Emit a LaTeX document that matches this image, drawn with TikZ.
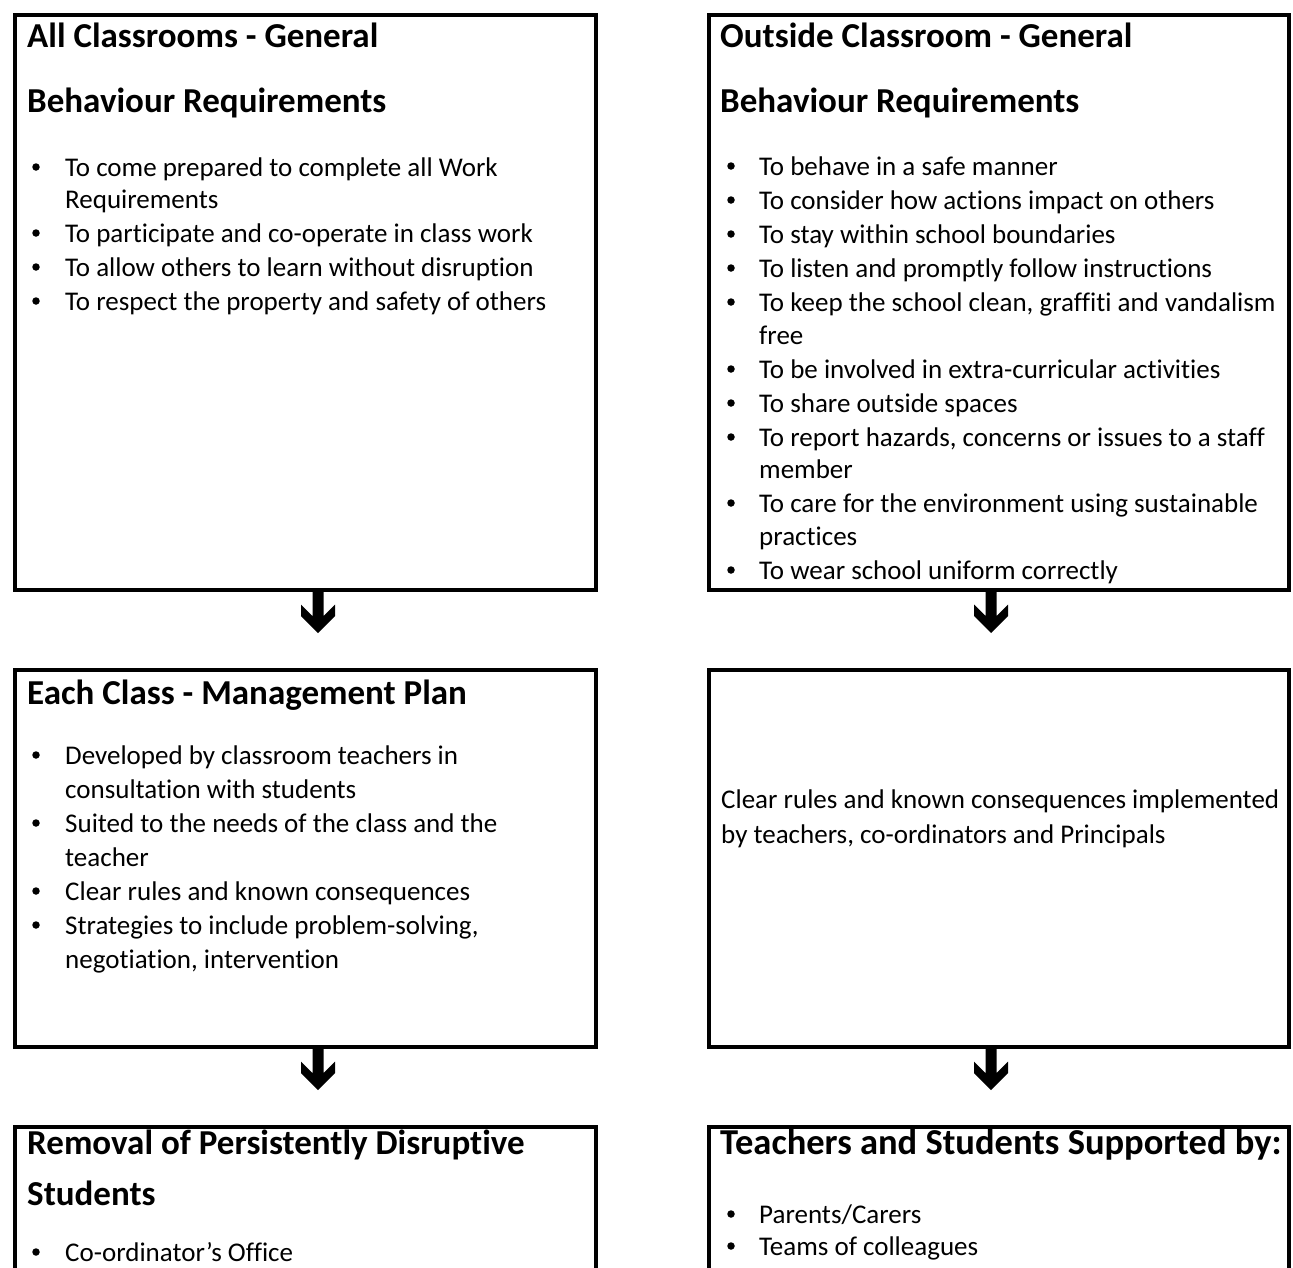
\documentclass[tikz,border=0pt]{standalone}
\usepackage{fontspec}
\setmainfont{Carlito}[Ligatures=NoCommon]
\begin{document}
\begin{tikzpicture}[x=1pt,y=-1pt,
  box/.style={draw=black,line width=4pt,inner sep=0pt,anchor=north west},
  ttl/.style={font=\fontsize{35}{42}\selectfont\bfseries,anchor=base west,inner sep=0pt},
  txt/.style={font=\fontsize{27}{33}\selectfont,anchor=base west,inner sep=0pt},
  bul/.style={circle,fill=black,inner sep=0pt,minimum size=7.5pt},
  arr/.style={fill=black}]
\useasboundingbox (0,0) rectangle (1293,1267);
\clip (0,0) rectangle (1293,1267);
% boxes
\node[box,minimum width=581pt,minimum height=575pt] (b1) at (12.5,13) {};
\node[box,minimum width=580pt,minimum height=575pt] (b2) at (707,13) {};
\node[box,minimum width=581pt,minimum height=377pt] (b3) at (12.5,668) {};
\node[box,minimum width=580pt,minimum height=377pt] (b4) at (707,668) {};
\node[box,minimum width=581pt,minimum height=300pt] (b5) at (12.5,1125) {};
\node[box,minimum width=580pt,minimum height=300pt] (b6) at (707,1125) {};
% arrows
\foreach \src/\xx in {b1/318,b2/991,b3/318,b4/991}{
  \fill[arr] (\src.south -| \xx,0) ++(-5.5,0) -- ++(0,24) -- ++(-11.5,-11.5) -- ++(0,11.5) -- ++(17,17) -- ++(17,-17) -- ++(0,-11.5) -- ++(-11.5,11.5) -- ++(0,-24) -- cycle;
}
% box 1
\node[ttl] (t1a) at (27,47) {All Classrooms - General};
\node[ttl] (t1b) at (27,112) {Behaviour Requirements};
\foreach \n/\yy/\tt in {1/176/{To come prepared to complete all Work},3/242/{To participate and co-operate in class work},4/276/{To allow others to learn without disruption},5/310/{To respect the property and safety of others}}{
  \node[bul] (p1b\n) at (36,\yy-9) {};
  \node[txt] (p1t\n) at (65,\yy) {\tt};
}
\node[txt] (p1t2) at (65,208) {Requirements};
% box 2
\node[ttl] (t2a) at (720,47) {Outside Classroom - General};
\node[ttl] (t2b) at (720,112) {Behaviour Requirements};
\foreach \n/\yy/\tt in {1/175/{To behave in a safe manner},2/209/{To consider how actions impact on others},3/243/{To stay within school boundaries},4/277/{To listen and promptly follow instructions},5/311/{To keep the school clean, graffiti and vandalism},6/378/{To be involved in extra-curricular activities},7/412/{To share outside spaces},8/446/{To report hazards, concerns or issues to a staff},9/512/{To care for the environment using sustainable},10/579/{To wear school uniform correctly}}{
  \node[bul] (p2b\n) at (731,\yy-9) {};
  \node[txt] (p2t\n) at (759,\yy) {\tt};
}
\node[txt] (p2c1) at (759,344) {free};
\node[txt] (p2c2) at (759,478) {member};
\node[txt] (p2c3) at (759,545) {practices};
% box 3
\node[ttl] (t3a) at (27,704) {Each Class - Management Plan};
\foreach \n/\yy/\tt in {1/764/{Developed by classroom teachers in},2/832/{Suited to the needs of the class and the},3/900/{Clear rules and known consequences},4/934/{Strategies to include problem-solving,}}{
  \node[bul] (p3b\n) at (36,\yy-9) {};
  \node[txt] (p3t\n) at (65,\yy) {\tt};
}
\node[txt] (p3c1) at (65,798) {consultation with students};
\node[txt] (p3c2) at (65,866) {teacher};
\node[txt] (p3c3) at (65,968) {negotiation, intervention};
% box 4
\node[txt] (p4a) at (721,808) {Clear rules and known consequences implemented};
\node[txt] (p4b) at (721,843) {by teachers, co-ordinators and Principals};
% box 5
\node[ttl] (t5a) at (27,1154) {Removal of Persistently Disruptive};
\node[ttl] (t5b) at (27,1205) {Students};
\node[bul] (p5b1) at (36,1252) {};
\node[txt] (p5t1) at (65,1261) {Co-ordinator’s Office};
% box 6
\node[ttl,font=\fontsize{36.5}{42}\selectfont\bfseries] (t6a) at (720,1154) {Teachers and Students Supported by:};
\node[bul] (p6b1) at (731,1214) {};
\node[txt] (p6t1) at (759,1223) {Parents/Carers};
\node[bul] (p6b2) at (731,1246) {};
\node[txt] (p6t2) at (759,1255) {Teams of colleagues};
\end{tikzpicture}
\end{document}
